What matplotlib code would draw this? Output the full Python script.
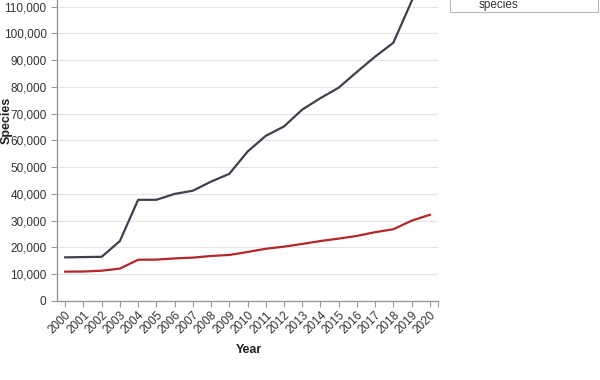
import matplotlib
matplotlib.use("Agg")
import matplotlib.pyplot as plt
from matplotlib.patches import Rectangle
from matplotlib.ticker import FuncFormatter

plt.rcParams['font.family'] = ['Liberation Sans', 'DejaVu Sans']

years = [str(y) for y in range(2000, 2021)]
# dark series (runs off the top of the cropped chart after 2019)
total = [16300, 16400, 16500, 22400, 37800, 37800, 40000, 41200, 44600, 47500,
         55800, 61700, 65200, 71500, 75800, 79700, 85600, 91300, 96500, 112000, 126000]
# red series
described = [10950, 11000, 11300, 12100, 15400, 15450, 15900, 16200, 16800, 17200,
             18300, 19500, 20300, 21300, 22400, 23300, 24300, 25700, 26800, 30000, 32200]

fig = plt.figure(figsize=(6, 3.8), dpi=100)
ax = fig.add_axes([0.095, 0.208, 0.635, 0.845])

x = list(range(len(years)))
ax.plot(x, total, color='#3c414d', lw=1.6)
ax.plot(x, described, color='#b3262a', lw=1.6)

ax.set_xlim(-0.45, len(years) - 1 + 0.45)
ax.set_ylim(0, 120000)
ax.set_yticks(range(0, 110001, 10000))
ax.yaxis.set_major_formatter(FuncFormatter(lambda v, p: f"{int(v):,}"))
ax.set_xticks(x)
ax.set_xticklabels(years, rotation=45, ha='right', rotation_mode='anchor')
ax.set_xticks([len(years) - 1 + 0.45], minor=True)

ax.grid(axis='y', color='#e4e4e4', lw=0.8)
ax.set_axisbelow(True)
for s in ['top', 'right']:
    ax.spines[s].set_visible(False)
for s in ['left', 'bottom']:
    ax.spines[s].set_color('#9a9a9a')
    ax.spines[s].set_linewidth(1.0)
ax.tick_params(axis='both', which='both', colors='#9a9a9a', length=4, width=0.8,
               labelsize=8.5, labelcolor='#333333')
ax.tick_params(axis='x', pad=2)

# axis titles placed where the cropped reference shows them
fig.text(7 / 600, 1 - 120 / 380, 'Species', rotation=90, fontsize=9,
         fontweight='bold', color='#222222', ha='center', va='center')
fig.text(249 / 600, 1 - 350 / 380, 'Year', fontsize=9, fontweight='bold',
         color='#222222', ha='center', va='center')

# partially visible legend box at top right
fig.patches.append(Rectangle((450 / 600, 1 - 12 / 380), 148 / 600, 60 / 380,
                             transform=fig.transFigure, fill=False,
                             edgecolor='#bbbbbb', lw=0.8))
fig.text(479 / 600, 1 - 5 / 380, 'species', fontsize=8.5, color='#333333',
         ha='left', va='center')

fig.savefig('out.png', dpi=100)
